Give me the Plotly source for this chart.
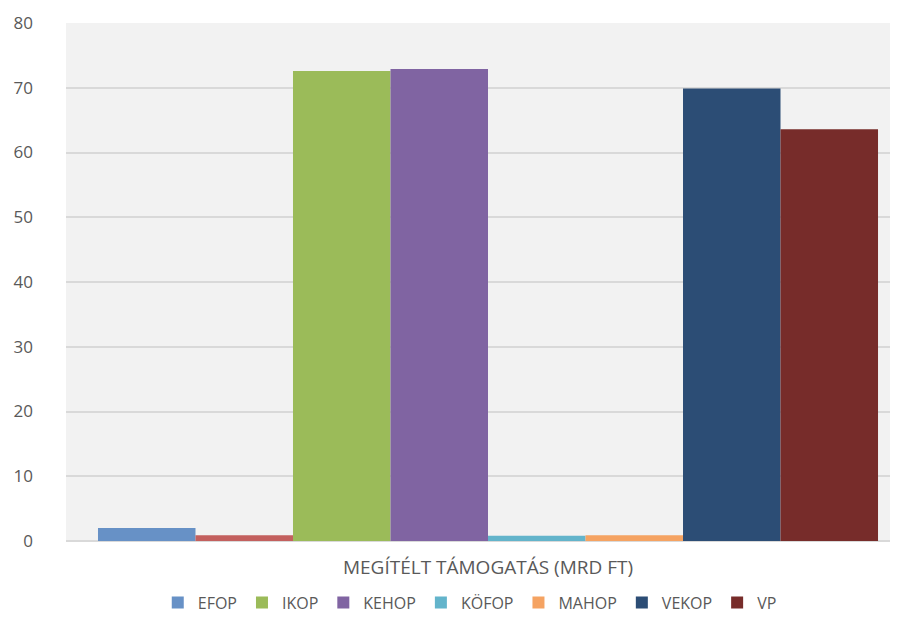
import plotly.graph_objects as go

category = ["MEGÍTÉLT TÁMOGATÁS (MRD FT)"]
programs = ["EFOP", "GINOP", "IKOP", "KEHOP", "KÖFOP", "MAHOP", "VEKOP", "VP"]
values = [2.0, 0.9, 72.6, 72.9, 0.8, 0.9, 69.9, 63.6]
in_legend = [True, False, True, True, True, True, True, True]
colors = ["#6791c6", "#c3605e", "#9bbb59", "#8064a2", "#63b4cb", "#f5a362", "#2c4d75", "#772c2a"]
y_ticks = [0, 10, 20, 30, 40, 50, 60, 70, 80]

fig = go.Figure()
for name, val, show, col in zip(programs, values, in_legend, colors):
    fig.add_trace(go.Bar(x=category, y=[val], name=name, showlegend=show,
                         marker=dict(color=col, line=dict(width=0))))

font_fam = "Open Sans, Liberation Sans, sans-serif"
fig.update_layout(
    width=882, height=610,
    margin=dict(l=58, r=0, t=15, b=77, autoexpand=False),
    paper_bgcolor="white",
    plot_bgcolor="#f2f2f2",
    barmode="group",
    bargap=0.0758,
    bargroupgap=0,
    font=dict(family=font_fam, color="#595959", size=16),
    legend=dict(orientation="h", x=0.49, xanchor="center", y=-0.119, yanchor="middle",
                font=dict(size=16, color="#595959"), itemwidth=30, traceorder="normal",
                itemsizing="constant"),
    showlegend=True,
)
fig.update_xaxes(type="category", range=[-0.5, 0.4763], showgrid=False, zeroline=False,
                 showline=False, ticks="", automargin=False, ticklabelstandoff=13,
                 tickfont=dict(size=19, color="#595959"))
fig.update_yaxes(range=[0, 80], tickvals=y_ticks, showgrid=True, gridcolor="#d9d9d9", gridwidth=1.5,
                 zeroline=True, zerolinecolor="#d9d9d9", zerolinewidth=2, showline=False,
                 ticks="", automargin=False, ticklabelstandoff=32,
                 tickfont=dict(size=17, color="#595959"))

fig.write_html("out.html")
